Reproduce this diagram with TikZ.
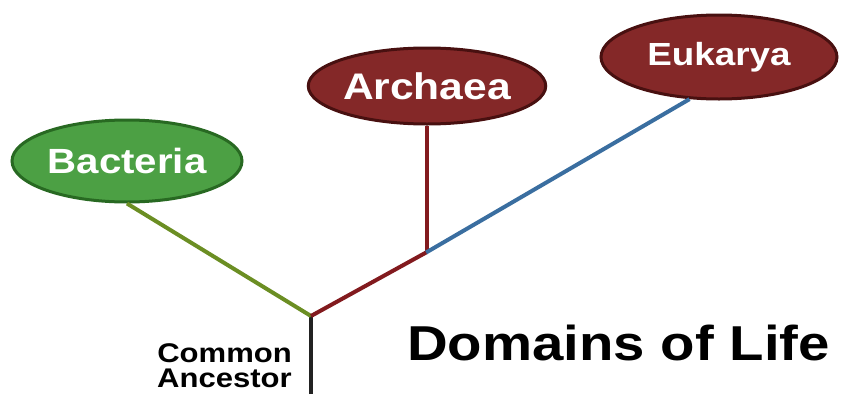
\documentclass[tikz,border=0pt]{standalone}
\usepackage{fontspec}
\setmainfont{Liberation Sans}[FakeStretch=1.15]
\usepackage{tikz}
\usetikzlibrary{shapes.geometric,positioning}
\definecolor{bactfill}{RGB}{76,160,68}
\definecolor{bactdraw}{RGB}{40,105,34}
\definecolor{redfill}{RGB}{132,40,40}
\definecolor{reddraw}{RGB}{72,16,16}
\definecolor{greenline}{RGB}{107,142,35}
\definecolor{redline}{RGB}{130,26,30}
\definecolor{blueline}{RGB}{58,110,160}
\definecolor{trunk}{RGB}{34,34,34}
\newcommand\fsz[1]{\bfseries\fontsize{#1}{#1}\selectfont}
\tikzstyle{realm}=[ellipse, draw, line width=3pt, inner sep=0pt, text=white]
\tikzstyle{branch}=[line width=4pt]

\begin{document}
\begin{tikzpicture}[x=1pt,y=-1pt]
		\useasboundingbox(0,0)rectangle(841,394);
		\node[realm, fill=bactfill, draw=bactdraw, minimum width=230pt, minimum height=82pt, font=\fsz{35}](B)at(127,161){Bacteria};
		\node[realm, fill=redfill, draw=reddraw, minimum width=236pt, minimum height=76pt, font=\fsz{37}](A)at(427,86){Archaea};
		\node[realm, fill=redfill, draw=reddraw, minimum width=236pt, minimum height=84pt, font=\fsz{32}](E)at(719,57){Eukarya};
		\coordinate(R)at(311,316);
		\coordinate(M)at(427,252);
		\coordinate(T)at(311,394);
		\draw[branch, trunk](T)--(R);
		\draw[branch, greenline](R)--(B.south);
		\draw[branch, redline](R)--(M);
		\draw[branch, redline](M)--(A.south);
		\draw[branch, blueline, shorten <=-1pt](M)--(E.235);
		\node[anchor=north east, inner sep=0pt, align=right, font=\bfseries\fontsize{27}{25}\selectfont](CA)at(292,343){Common\\Ancestor};
		\node[anchor=base west, inner sep=0pt, font=\fsz{49}](T1)at(407,360){Domains of Life};
\end{tikzpicture}
\end{document}
